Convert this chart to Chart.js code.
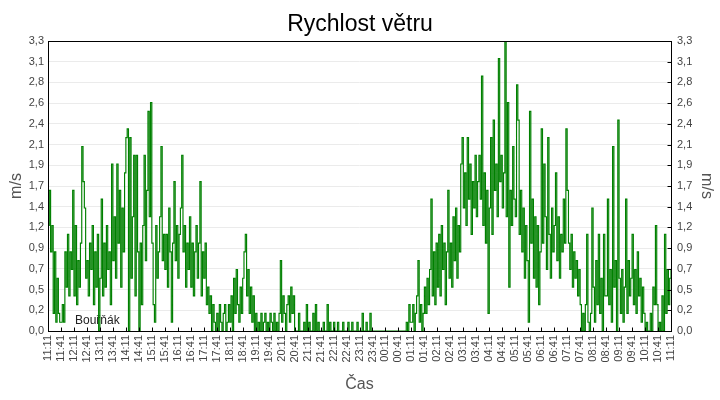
<!DOCTYPE html>
<html><head><meta charset="utf-8">
<script src="https://cdn.jsdelivr.net/npm/chart.js@4/dist/chart.umd.min.js"></script>
<style>html,body{margin:0;padding:0;background:#fff}canvas{display:block}</style>
</head><body>
<canvas id="c" width="720" height="400" style="width:720px;height:400px"></canvas>
<script>
const chartTitle = 'Rychlost větru';
const yAxisTitle = 'm/s';
const xAxisTitle = 'Čas';
const noteText = 'Bouřňák';
const stepMinutes = 3;
const labelStepMinutes = 30;
const yMax = 3.3;

const timeLabels = ['11:11','11:41','12:11','12:41','13:11','13:41','14:11','14:41','15:11','15:41','16:11','16:41',
  '17:11','17:41','18:11','18:41','19:11','19:41','20:11','20:41','21:11','21:41','22:11','22:41',
  '23:11','23:41','00:11','00:41','01:11','01:41','02:11','02:41','03:11','03:41','04:11','04:41',
  '05:11','05:41','06:11','06:41','07:11','07:41','08:11','08:41','09:11','09:41','10:11','10:41','11:11'];

const yTickLabels = ['0,0','0,2','0,5','0,7','0,9','1,2','1,4','1,7','1,9','2,1','2,4','2,6','2,8','3,1','3,3'];

// 11:11 – 17:11 (3-minute samples)
const speedAfternoon = [
  1.2,1.6,0.9,1.2,0.2,0.9,0.1,0.6,0.2,0.1,
  0.1,0.3,0.1,0.9,0.5,1.1,0.4,0.9,0.7,1.6,
  0.4,1.2,0.3,0.8,0.5,1.0,2.1,1.7,1.4,0.6,
  0.8,0.4,1.0,0.7,1.2,0.3,0.9,0.5,1.1,0.0,
  0.6,1.5,0.4,1.0,0.5,1.2,0.7,0.9,0.3,1.9,
  0.8,1.3,0.6,1.9,1.0,1.6,0.5,1.4,0.9,1.8,
  2.2,2.3,0.0,2.2,0.6,1.3,2.0,0.4,2.0,0.9,
  0.0,1.0,0.3,1.2,2.0,0.8,1.6,2.5,1.3,2.6,
  1.0,0.3,0.1,1.2,0.6,0.9,1.3,2.1,0.8,1.1,
  0.7,1.1,0.5,1.4,0.9,0.1,1.0,1.7,0.8,1.2,
  0.6,1.1,1.4,2.0,0.9,1.2,0.5,1.0,0.7,1.3,
  0.5,1.0,0.4,0.9,1.2,0.6,1.0,1.7,0.4,0.9
];
// 17:11 – 23:11
const speedEvening = [
  0.6,1.0,0.3,0.5,0.2,0.4,0.0,0.3,0.1,0.0,
  0.2,0.0,0.3,0.1,0.0,0.2,0.3,0.0,0.1,0.3,
  0.1,0.4,0.0,0.6,0.2,0.7,0.3,0.1,0.5,0.2,
  0.6,0.9,1.1,0.4,0.7,0.2,0.5,0.1,0.4,0.0,
  0.2,0.0,0.1,0.0,0.2,0.0,0.1,0.2,0.0,0.1,
  0.0,0.2,0.1,0.0,0.2,0.0,0.1,0.0,0.2,0.8,
  0.1,0.4,0.2,0.0,0.3,0.4,0.1,0.5,0.2,0.4,
  0.0,0.0,0.0,0.2,0.0,0.0,0.0,0.1,0.0,0.3,
  0.0,0.1,0.0,0.0,0.2,0.0,0.3,0.0,0.1,0.0,
  0.0,0.0,0.1,0.0,0.0,0.3,0.0,0.1,0.0,0.0,
  0.1,0.0,0.0,0.1,0.0,0.0,0.0,0.1,0.0,0.0,
  0.0,0.1,0.0,0.0,0.1,0.0,0.0,0.0,0.1,0.0
];
// 23:11 – 05:11
const speedNight = [
  0.0,0.0,0.2,0.0,0.0,0.1,0.0,0.0,0.2,0.0,
  0.0,0.0,0.0,0.0,0.0,0.0,0.0,0.0,0.0,0.0,
  0.0,0.0,0.0,0.0,0.0,0.0,0.0,0.0,0.0,0.0,
  0.0,0.0,0.0,0.0,0.0,0.0,0.1,0.0,0.3,0.1,
  0.1,0.3,0.0,0.2,0.4,0.8,0.1,0.3,0.0,0.2,
  0.5,0.2,0.6,0.3,0.7,1.5,0.4,0.9,0.3,1.0,
  0.5,1.1,0.4,1.2,0.7,1.0,0.3,0.9,1.6,0.6,
  1.0,0.5,1.3,0.8,1.4,0.6,1.2,0.9,1.9,2.2,
  1.4,1.8,1.2,2.2,1.5,1.9,1.1,1.7,1.4,2.0,
  1.3,1.7,2.0,1.5,2.9,1.2,1.8,1.0,1.6,0.2,
  1.4,2.2,1.1,2.4,1.6,1.9,1.3,3.1,1.7,2.0,
  1.4,1.8,3.3,1.3,2.6,0.5,1.6,1.2,2.1,1.5
];
// 05:11 – 11:11
const speedMorning = [
  1.3,2.8,2.4,1.1,1.6,0.9,1.4,0.6,1.2,0.8,
  0.1,2.5,1.0,1.5,0.6,1.3,0.5,1.2,0.3,0.9,
  2.3,1.0,1.9,1.3,0.7,2.2,1.1,0.6,1.4,0.9,
  1.2,1.8,0.8,1.3,0.6,1.1,0.9,1.5,1.0,2.3,
  1.6,1.0,0.7,1.1,0.5,0.9,0.6,0.8,0.4,0.7,
  0.3,0.0,0.2,0.0,0.3,1.1,0.1,0.0,0.2,1.4,
  0.5,0.1,0.8,0.3,1.1,0.2,0.6,0.0,1.1,0.4,
  0.4,1.5,0.3,0.7,0.1,2.1,0.5,0.8,0.0,2.4,
  0.6,0.2,0.7,0.1,0.5,1.5,0.2,0.8,0.4,0.6,
  1.1,0.3,0.7,0.2,0.9,0.4,0.6,0.1,0.5,0.2,
  0.0,0.1,0.0,0.0,0.2,0.0,0.5,0.3,1.2,0.3,
  0.0,0.1,0.0,0.4,0.0,1.1,0.2,0.7,0.3,0.6,
  0.7
];

const speeds = speedAfternoon.concat(speedEvening, speedNight, speedMorning);
const points = speeds.map((v, i) => ({ x: i * stepMinutes, y: v }));

const FONT = '"Liberation Sans", Arial, sans-serif';
const yTickValues = () => yTickLabels.map((_, i) => ({ value: yMax * i / (yTickLabels.length - 1) }));

const framePlugin = {
  id: 'frame',
  beforeDatasetsDraw(chart) {
    const ctx = chart.ctx;
    ctx.save();
    ctx.font = '12px ' + FONT;
    ctx.fillStyle = '#222';
    ctx.textAlign = 'left';
    ctx.textBaseline = 'alphabetic';
    ctx.fillText(noteText, 75, 324);
    ctx.restore();
  },
  afterDatasetsDraw(chart) {
    const { ctx, chartArea: a, scales } = chart;
    ctx.save();
    ctx.strokeStyle = '#000';
    ctx.lineWidth = 1;
    const l = Math.round(a.left) + 0.5, t = Math.round(a.top) + 0.5;
    const r = Math.round(a.right) + 0.5, b = Math.round(a.bottom) + 0.5;
    ctx.strokeRect(l, t, r - l, b - t);
    ctx.beginPath();
    scales.x.ticks.forEach(tk => {
      const px = Math.round(scales.x.getPixelForValue(tk.value)) + 0.5;
      ctx.moveTo(px, b); ctx.lineTo(px, b - 4);
    });
    scales.y.ticks.forEach(tk => {
      const py = Math.round(scales.y.getPixelForValue(tk.value)) + 0.5;
      ctx.moveTo(r, py); ctx.lineTo(r - 4, py);
    });
    ctx.stroke();
    ctx.font = '23px ' + FONT;
    ctx.fillStyle = '#000';
    ctx.textAlign = 'center';
    ctx.textBaseline = 'alphabetic';
    ctx.fillText(chartTitle, 360, 31);
    ctx.restore();
  }
};

new Chart(document.getElementById('c'), {
  type: 'line',
  data: {
    datasets: [{
      data: points,
      borderColor: '#008000',
      borderWidth: 1.15,
      pointRadius: 0,
      stepped: 'before',
      fill: false,
      tension: 0
    }]
  },
  options: {
    responsive: false,
    animation: false,
    devicePixelRatio: 1,
    layout: { padding: { top: 41, left: 0, right: 0, bottom: 0 } },
    plugins: { legend: { display: false }, title: { display: false }, tooltip: { enabled: false } },
    scales: {
      x: {
        type: 'linear',
        min: 0,
        max: (timeLabels.length - 1) * labelStepMinutes,
        afterBuildTicks(axis) { axis.ticks = timeLabels.map((_, i) => ({ value: i * labelStepMinutes })); },
        ticks: {
          autoSkip: false, maxRotation: 90, minRotation: 90, padding: 4,
          color: '#444', font: { family: FONT, size: 11 },
          callback: (v, i) => timeLabels[i]
        },
        grid: { display: false, drawTicks: false },
        border: { display: false },
        title: { display: true, text: xAxisTitle, color: '#555', font: { family: FONT, size: 16 }, padding: { top: 0, bottom: 6 } },
        afterFit(scale) { scale.height = 69; }
      },
      y: {
        position: 'left',
        min: 0, max: yMax,
        afterBuildTicks(axis) { axis.ticks = yTickValues(); },
        ticks: { padding: 4, color: '#444', font: { family: FONT, size: 11 }, callback: (v, i) => yTickLabels[i] },
        grid: { color: '#ebebeb', drawTicks: false, lineWidth: 1 },
        border: { display: false },
        title: { display: true, text: yAxisTitle, color: '#555', font: { family: FONT, size: 16 }, padding: { top: 7, bottom: 0 } },
        afterFit(scale) { scale.width = 48; }
      },
      y2: {
        position: 'right',
        min: 0, max: yMax,
        afterBuildTicks(axis) { axis.ticks = yTickValues(); },
        ticks: { padding: 6, color: '#444', font: { family: FONT, size: 11 }, callback: (v, i) => yTickLabels[i] },
        grid: { display: false, drawTicks: false },
        border: { display: false },
        title: { display: true, text: yAxisTitle, color: '#555', font: { family: FONT, size: 16 }, padding: { top: 4, bottom: 0 } },
        afterFit(scale) { scale.width = 49; }
      }
    }
  },
  plugins: [framePlugin]
});
</script>
</body></html>
